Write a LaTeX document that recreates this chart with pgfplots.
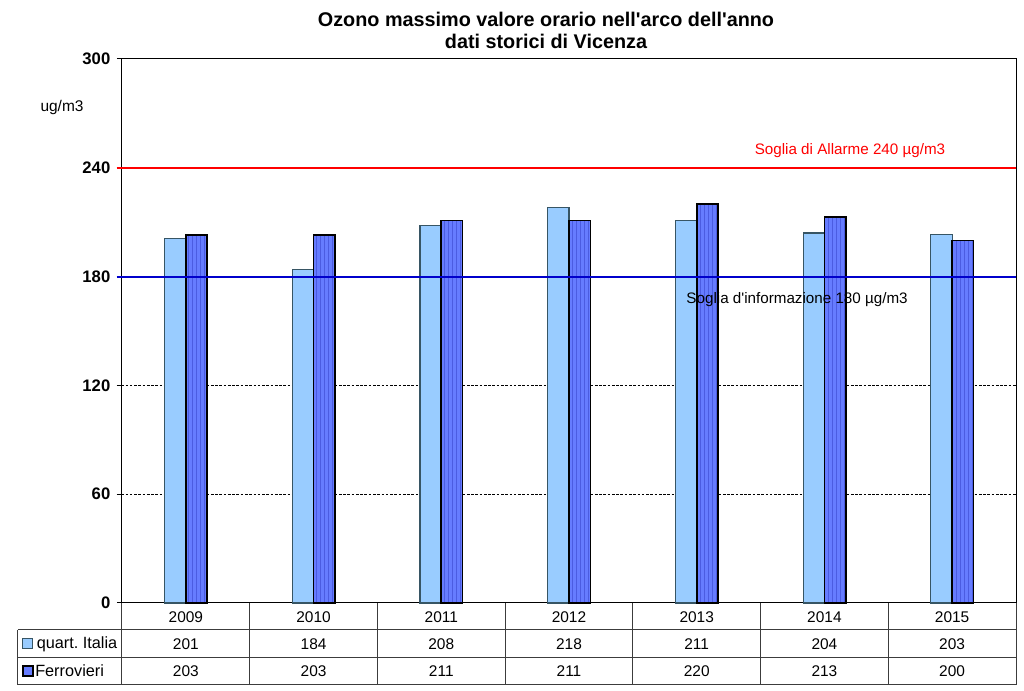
\documentclass[border=0pt]{standalone}
\usepackage{pgfplots}
\pgfplotsset{compat=1.18}
\usepackage{pgfplotstable}
\usepackage{fontspec}
\setmainfont{Liberation Sans}[Ligatures=TeXOff]
\usetikzlibrary{patterns}
\definecolor{lightbar}{RGB}{153,204,255}
\definecolor{lightedge}{RGB}{55,85,100}
\definecolor{darkbar}{RGB}{102,124,255}
\definecolor{stripe}{RGB}{75,92,225}
\definecolor{redline}{RGB}{255,0,0}
\definecolor{blueline}{RGB}{0,0,204}
\definecolor{tabline}{RGB}{60,60,60}
\pgfplotstableread{
x year italia ferrovieri
0 2009 201 203
1 2010 184 203
2 2011 208 211
3 2012 218 211
4 2013 211 220
5 2014 204 213
6 2015 203 200
}\data
\newcommand{\px}[2]{({((#1)-122)*0.75pt},{(603-(#2))*0.75pt})}
\begin{document}
\frenchspacing
\begin{tikzpicture}
\begin{axis}[
  at={(0,0)}, anchor=south west,
  scale only axis, width=670.5pt, height=408pt,
  xmin=-0.5, xmax=6.5, ymin=0, ymax=300,
  xtick=\empty,
  ytick={0,60,120,180,240,300},
  ytick pos=left,
  tick align=outside,
  major tick length=3.75pt,
  tick style={black, line width=0.75pt},
  axis line style={black, line width=0.75pt},
  /pgf/number format/assume math mode=true,
  yticklabel style={font=\bfseries\fontsize{12.5}{14}\selectfont, xshift=-1.5pt},
  ybar=0pt, bar width=16pt,
  clip=false,
]
\draw[black, line width=0.6pt, dash pattern=on 2pt off 1.2pt] ([xshift=-3.75pt]axis cs:-0.5,60) -- (axis cs:6.5,60);
\draw[black, line width=0.6pt, dash pattern=on 2pt off 1.2pt] ([xshift=-3.75pt]axis cs:-0.5,120) -- (axis cs:6.5,120);
\addplot[fill=lightbar, draw=lightedge, line width=0.9pt] table[x=x, y=italia] {\data};
\addplot[fill=darkbar, draw=black, line width=1.2pt, postaction={pattern=vertical lines, pattern color=stripe}] table[x=x, y=ferrovieri] {\data};
\draw[redline, line width=1.5pt] ([xshift=-3.75pt]axis cs:-0.5,240) -- (axis cs:6.5,240);
\draw[blueline, line width=1.5pt] ([xshift=-3.75pt]axis cs:-0.5,180) -- (axis cs:6.5,180);
\node[text=redline, font=\fontsize{11.4}{13}\selectfont] at (axis cs:5.20,249.3) {Soglia di Allarme 240 µg/m3};
\node[text=black, font=\fontsize{11.4}{13}\selectfont] at (axis cs:4.786,167.6) {Soglia d'informazione 180 µg/m3};
\end{axis}
\path[use as bounding box] \px{0}{0} rectangle \px{1024}{691};
% title
\node[align=center, font=\bfseries\fontsize{14.85}{16.5}\selectfont] at \px{546}{30} {Ozono massimo valore orario nell'arco dell'anno\\dati storici di Vicenza};
\node[font=\fontsize{11.6}{13}\selectfont] at \px{62}{108} {ug/m3};
% data table
\begin{scope}[tabline, line width=0.75pt]
\draw \px{18}{630} -- \px{1016}{630};
\draw \px{18}{658} -- \px{1016}{658};
\draw \px{18}{685} -- \px{1016}{685};
\draw \px{18}{630} -- \px{18}{685};
\draw \px{1016}{603} -- \px{1016}{685};
\foreach \k in {0,...,6} {
  \draw ({127.714*\k*0.75pt},0) -- ({127.714*\k*0.75pt},{-82*0.75pt});
}
\end{scope}
\foreach \i/\y/\a/\b in {0/2009/201/203,1/2010/184/203,2/2011/208/211,3/2012/218/211,4/2013/211/220,5/2014/204/213,6/2015/203/200} {
  \node[font=\fontsize{11.6}{13}\selectfont] at ({(63.857+127.714*\i)*0.75pt},{-14*0.75pt}) {\y};
  \node[font=\fontsize{11.6}{13}\selectfont] at ({(63.857+127.714*\i)*0.75pt},{-41*0.75pt}) {\a};
  \node[font=\fontsize{11.6}{13}\selectfont] at ({(63.857+127.714*\i)*0.75pt},{-68*0.75pt}) {\b};
}
\draw[fill=lightbar, draw=lightedge, line width=0.75pt] \px{23}{639} rectangle \px{33}{649};
\draw[fill=darkbar, draw=black, line width=0.9pt] \px{23}{666} rectangle \px{33}{676};
\node[anchor=west, inner sep=0pt, font=\fontsize{12.2}{13}\selectfont] at \px{36.5}{644} {quart. Italia};
\node[anchor=west, inner sep=0pt, font=\fontsize{12.2}{13}\selectfont] at \px{35}{671} {Ferrovieri};
\end{tikzpicture}
\end{document}
